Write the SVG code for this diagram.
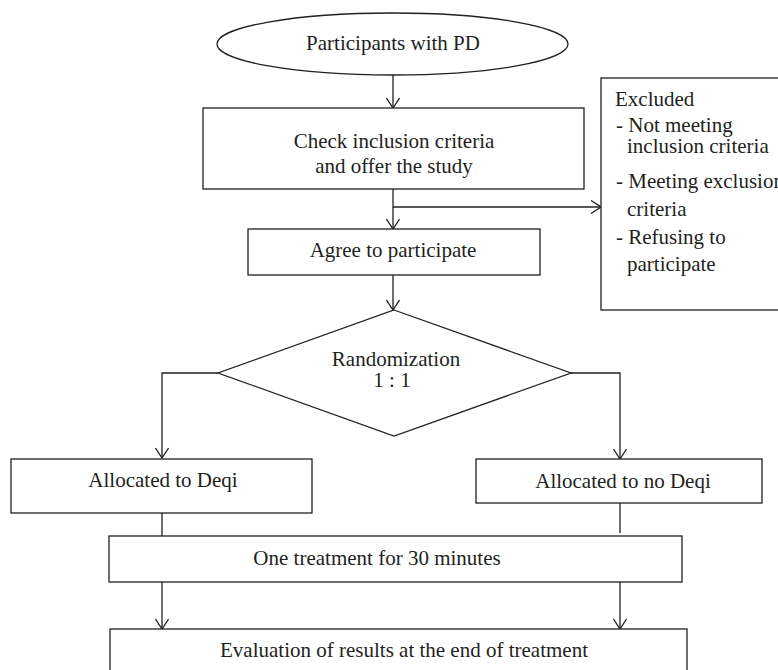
<svg xmlns="http://www.w3.org/2000/svg" width="778" height="670" viewBox="0 0 778 670">
<style>
.s{fill:#fff;stroke:#231f20;stroke-width:1.3}
.c{fill:none;stroke:#231f20;stroke-width:1.3}
text{font-family:"Liberation Serif","Times New Roman",serif;font-size:21px;fill:#231f20}
.m{text-anchor:middle}
</style>
<defs>
<marker id="arr" viewBox="-11 -7 12 14" refX="0" refY="0" markerWidth="12" markerHeight="14" markerUnits="userSpaceOnUse" orient="auto">
<path d="M-10,-6.5 L0,0 L-10,6.5" fill="none" stroke="#231f20" stroke-width="1.3"/>
</marker>
</defs>
<rect width="778" height="670" fill="#fff"/>
<g id="connectors">
<line class="c" x1="393" y1="75" x2="393" y2="108" marker-end="url(#arr)"/>
<line class="c" x1="393" y1="189" x2="393" y2="229" marker-end="url(#arr)"/>
<line class="c" x1="393" y1="207" x2="601" y2="207" marker-end="url(#arr)"/>
<line class="c" x1="393" y1="275" x2="393" y2="310" marker-end="url(#arr)"/>
<polyline class="c" points="218,373 162,373 162,458" marker-end="url(#arr)"/>
<polyline class="c" points="571,373 620,373 620,459" marker-end="url(#arr)"/>
<line class="c" x1="162" y1="513" x2="162" y2="536"/>
<line class="c" x1="620" y1="503" x2="620" y2="533"/>
<line class="c" x1="162" y1="582" x2="162" y2="629" marker-end="url(#arr)"/>
<line class="c" x1="620" y1="582" x2="620" y2="629" marker-end="url(#arr)"/>
</g>
<g id="participants">
<ellipse class="s" cx="392.5" cy="44" rx="175.5" ry="31"/>
<text class="m" x="393" y="50">Participants with PD</text>
</g>
<g id="check">
<rect class="s" x="203" y="108" width="381" height="81"/>
<text class="m" x="394" y="148">Check inclusion criteria</text>
<text class="m" x="394" y="173">and offer the study</text>
</g>
<g id="excluded">
<rect class="s" x="601" y="78" width="200" height="232"/>
<text x="615" y="106">Excluded</text>
<text x="616" y="132">- Not meeting</text>
<text x="627" y="153">inclusion criteria</text>
<text x="616" y="188">- Meeting exclusion</text>
<text x="627" y="216">criteria</text>
<text x="616" y="244">- Refusing to</text>
<text x="627" y="271">participate</text>
</g>
<g id="agree">
<rect class="s" x="248" y="229" width="292" height="46"/>
<text class="m" x="393" y="257">Agree to participate</text>
</g>
<g id="randomization">
<polygon class="s" points="394,310 571,373 394,436 218,373"/>
<text class="m" x="396" y="366">Randomization</text>
<text class="m" x="392" y="387">1 : 1</text>
</g>
<g id="deqi">
<rect class="s" x="11" y="459" width="301" height="54"/>
<text class="m" x="163" y="487">Allocated to Deqi</text>
</g>
<g id="nodeqi">
<rect class="s" x="476" y="459" width="286" height="44"/>
<text class="m" x="623" y="488">Allocated to no Deqi</text>
</g>
<g id="treatment">
<rect class="s" x="109" y="536" width="573" height="46"/>
<text class="m" x="377" y="565">One treatment for 30 minutes</text>
</g>
<g id="evaluation">
<rect class="s" x="110" y="629" width="577" height="60"/>
<text class="m" x="404" y="657">Evaluation of results at the end of treatment</text>
</g>
</svg>
